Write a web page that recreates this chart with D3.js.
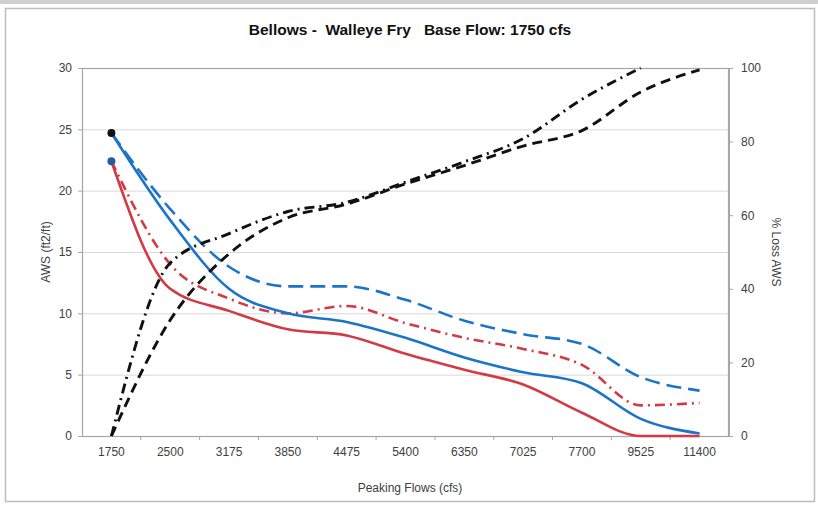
<!DOCTYPE html>
<html><head><meta charset="utf-8">
<script src="https://cdn.jsdelivr.net/npm/d3@7"></script>
<style>
html,body{margin:0;padding:0;background:#fff;}
svg{display:block;}
text{font-family:"Liberation Sans Narrow","Arial Narrow","Liberation Sans",Arial,sans-serif;}
</style></head>
<body><svg id="chart" width="818" height="505"></svg>
<script>
const categories = ["1750","2500","3175","3850","4475","5400","6350","7025","7700","9525","11400"];
const blueSolid  = [24.7, 17.6, 12.0, 10.0, 9.3, 8.0, 6.4, 5.2, 4.3, 1.4, 0.2];
const blueDashed = [24.7, 18.5, 13.8, 12.2, 12.2, 11.1, 9.4, 8.3, 7.5, 4.8, 3.7];
const redSolid   = [22.4, 12.0, 10.2, 8.7, 8.2, 6.7, 5.4, 4.2, 1.9, 0.0, 0.0];
const redDashDot = [22.4, 14.0, 11.2, 10.0, 10.6, 9.2, 8.0, 7.1, 5.8, 2.5, 2.7];
const lossDashed  = [0, 31.5, 49.5, 59.3, 63.0, 68.5, 73.5, 78.8, 83.0, 93.5, 99.5];
const lossDashDot = [0, 47.0, 55.0, 61.0, 63.5, 69.0, 74.5, 80.8, 91.5, 100, null];
const leftTicks  = [0, 5, 10, 15, 20, 25, 30];
const rightTicks = [0, 20, 40, 60, 80, 100];
const titleText = "Bellows -  Walleye Fry   Base Flow: 1750 cfs";
const yLeftTitle = "AWS (ft2/ft)";
const yRightTitle = "% Loss AWS";
const xTitle = "Peaking Flows (cfs)";

const svg = d3.select("#chart");
const L = 82, R = 729, T = 68, B = 436;

// outer frame
svg.append("rect").attr("x",0).attr("y",0).attr("width",818).attr("height",4).attr("fill","#cfcfcf");
svg.append("rect").attr("x",5.5).attr("y",8.5).attr("width",809).attr("height",493)
  .attr("fill","#fff").attr("stroke","#bdbdbd").attr("stroke-width",1.5);

const x = d3.scaleBand().domain(categories).range([L, R]).paddingInner(0).paddingOuter(0);
const cx = c => x(c) + x.bandwidth()/2;
const yL = d3.scaleLinear().domain([0,30]).range([B, T]);
const yR = d3.scaleLinear().domain([0,100]).range([B, T]);

// gridlines
svg.append("g").selectAll("line").data(leftTicks.filter(v => v>0 && v<30)).join("line")
  .attr("x1", L).attr("x2", R).attr("y1", d => yL(d)+0.5).attr("y2", d => yL(d)+0.5)
  .attr("stroke","#d9d9d9").attr("stroke-width",1);

// plot border
svg.append("rect").attr("x",L+0.5).attr("y",T+0.5).attr("width",R-L-1).attr("height",B-T)
  .attr("fill","none").attr("stroke","#a6a6a6").attr("stroke-width",1.2);

// axes
const gl = svg.append("g").attr("transform",`translate(${L},0)`)
  .call(d3.axisLeft(yL).tickValues(leftTicks).tickSize(4).tickPadding(6).tickFormat(d3.format("d")));
const gr = svg.append("g").attr("transform",`translate(${R},0)`)
  .call(d3.axisRight(yR).tickValues(rightTicks).tickSize(4).tickPadding(8).tickFormat(d3.format("d")));
const gb = svg.append("g").attr("transform",`translate(0,${B})`)
  .call(d3.axisBottom(x).tickSize(0).tickPadding(11));
[gl,gr,gb].forEach(g => {
  g.selectAll(".domain").attr("stroke","#a6a6a6");
  g.selectAll(".tick line").attr("stroke","#a6a6a6");
  g.selectAll("text").attr("font-size",12).attr("fill","#404040")
    .style("font-family",'"Liberation Sans Narrow","Arial Narrow","Liberation Sans",Arial,sans-serif');
});
// category boundary ticks
svg.append("g").selectAll("line").data(categories.slice(1)).join("line")
  .attr("x1", d => x(d)).attr("x2", d => x(d)).attr("y1", B).attr("y2", B+4)
  .attr("stroke","#a6a6a6");

// series
const lineL = d3.line().defined(d => d != null).x((d,i) => cx(categories[i])).y(d => yL(d)).curve(d3.curveMonotoneX);
const lineR = d3.line().defined(d => d != null).x((d,i) => cx(categories[i])).y(d => yR(d)).curve(d3.curveMonotoneX);

const blue = "#1b74c9", red = "#d23a44";
function draw(gen, data, color, dash, w){
  svg.append("path").datum(data).attr("d", gen).attr("fill","none")
    .attr("stroke", color).attr("stroke-width", w || 2.6)
    .attr("stroke-dasharray", dash || null).attr("stroke-linecap","butt");
}
draw(lineL, blueDashed, blue, "15,7");
draw(lineL, redDashDot, red, "10,5,2,5");
draw(lineL, blueSolid, blue);
draw(lineL, redSolid, red);
draw(lineR, lossDashed, "#111", "10,6", 2.9);
draw(lineR, lossDashDot, "#111", "10,5,2,5", 2.9);

// markers at first points
svg.append("circle").attr("cx", cx(categories[0])).attr("cy", yL(blueSolid[0])).attr("r",4).attr("fill","#111");
svg.append("circle").attr("cx", cx(categories[0])).attr("cy", yL(redSolid[0])).attr("r",4).attr("fill","#2a5a9e");

// titles
svg.append("text").attr("x",410).attr("y",35).attr("text-anchor","middle")
  .attr("font-size",15.5).attr("font-weight","bold").attr("fill","#111")
  .style("white-space","pre").attr("xml:space","preserve").text(titleText);
svg.append("text").attr("transform","translate(50,252) rotate(-90)").attr("text-anchor","middle")
  .attr("font-size",12).attr("fill","#404040").text(yLeftTitle);
svg.append("text").attr("transform","translate(772,252) rotate(90)").attr("text-anchor","middle")
  .attr("font-size",12).attr("fill","#404040").text(yRightTitle);
svg.append("text").attr("x",410).attr("y",492).attr("text-anchor","middle")
  .attr("font-size",12).attr("fill","#404040").text(xTitle);
</script></body></html>
